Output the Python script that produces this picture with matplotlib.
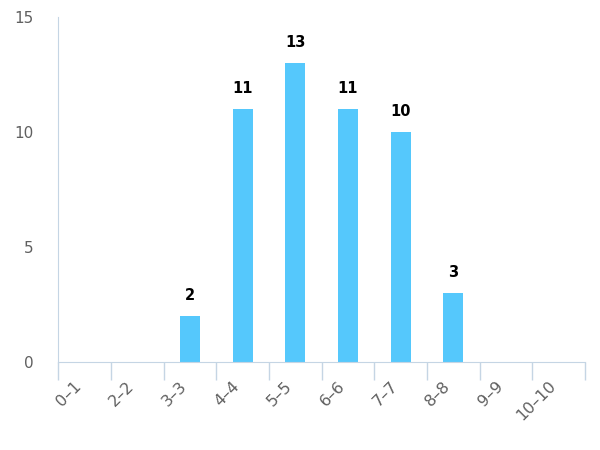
import matplotlib
matplotlib.use("Agg")
import matplotlib.pyplot as plt
import numpy as np

# datos del histograma
categories = ["0–1", "2–2", "3–3", "4–4", "5–5", "6–6", "7–7", "8–8", "9–9", "10–10"]
values = [0, 0, 2, 11, 13, 11, 10, 3, 0, 0]

bar_color = "#55c8fc"
axis_color = "#c5d5e4"
text_color = "#606060"

fig = plt.figure(figsize=(6, 4.5), dpi=100)
ax = fig.add_axes([0.097, 0.196, 0.878, 0.766])

x = np.arange(len(categories))
bars = ax.bar(x, values, width=0.38, color=bar_color, zorder=2)

# etiquetas de valor (solo barras no vacias)
for xi, v in zip(x, values):
    if v > 0:
        ax.text(xi, v + 0.55, str(v), ha="center", va="bottom",
                fontsize=10.5, fontweight="bold", color="black")

ax.set_xlim(-0.5, len(categories) - 0.5)
ax.set_ylim(0, 15)
ax.set_yticks([0, 5, 10, 15])
ax.tick_params(axis="y", length=0, pad=18, labelsize=11, labelcolor=text_color)

# marcas en los limites de categoria, etiquetas en el centro
ax.set_xticks(np.arange(-0.5, len(categories)), minor=False)
ax.set_xticklabels([])
ax.tick_params(axis="x", which="major", length=13, color=axis_color, width=1)
ax.set_xticks(x, minor=True)
ax.set_xticklabels(categories, minor=True, rotation=45, ha="right",
                   fontsize=11.5, color=text_color)
ax.tick_params(axis="x", which="minor", length=0, pad=12)

for s in ["top", "right"]:
    ax.spines[s].set_visible(False)
ax.spines["left"].set_color(axis_color)
ax.spines["bottom"].set_color(axis_color)

fig.savefig("out.png", dpi=100)
